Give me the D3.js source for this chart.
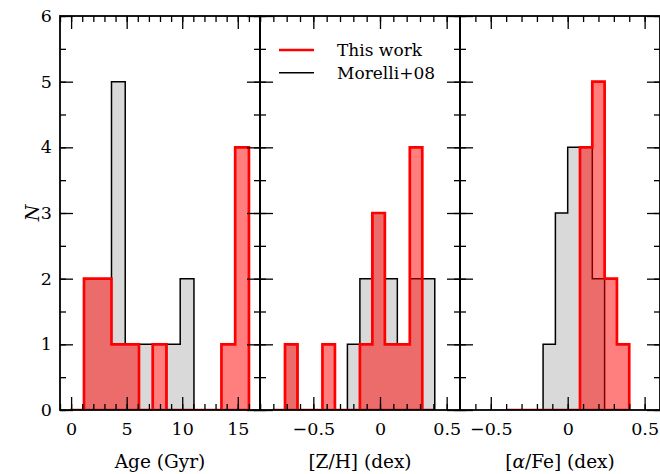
<!DOCTYPE html>
<html><head><meta charset="utf-8">
<script src="https://cdn.jsdelivr.net/npm/d3@7"></script>
<style>body{margin:0;background:#fff}svg{display:block}</style>
</head><body>
<svg id="c" width="660" height="474"></svg>
<script>
// ---------- data ----------
const ageBinStart = -0.077, ageBinWidth = 1.237;
const ageThisWork = [0,2,2,1,1,0,1,0,0,0,0,1,4];
const ageMorelli  = [0,2,2,5,1,1,0,1,2,0,0,0,0];

const zhBinStart = -0.806, zhBinWidth = 0.0936;
const zhThisWork = [0,1,0,0,1,0,0,1,3,1,1,4,0];
const zhMorelli  = [0,1,0,0,0,0,1,2,3,2,1,2,2];

const afeBinStart = -0.4, afeBinWidth = 0.08;
const afeThisWork = [0,0,0,0,0,0,4,5,2,1];
const afeMorelli  = [0,0,0,1,3,4,4,2,0,0];

const ageTicks = [0,5,10,15];
const zhTicks = [-0.5,0,0.5];
const afeTicks = [-0.5,0,0.5];
const yTicks = [0,1,2,3,4,5,6];
const legendLabels = ["This work","Morelli+08"];
const xTitles = [["Age (Gyr)"],["[Z/H] (dex)"],["[","α","/Fe] (dex)"]];

// ---------- layout ----------
const svg = d3.select("#c");
const yTop = 16, yBot = 410;
const FONT = "DejaVu Serif";
const y = d3.scaleLinear().domain([0,6]).range([yBot, yTop]);

const panels = [
  {x0:60, x1:260, domain:[-1,17], start:ageBinStart, w:ageBinWidth, red:ageThisWork, gray:ageMorelli, ticks:ageTicks, minor:1, fmt:d=>String(d), title:xTitles[0]},
  {x0:260, x1:460, domain:[-0.9,0.6], start:zhBinStart, w:zhBinWidth, red:zhThisWork, gray:zhMorelli, ticks:zhTicks, minor:0.1, fmt:d=>d===0?"0":(d<0?"\u2212":"")+Math.abs(d), title:xTitles[1]},
  {x0:460, x1:660, domain:[-0.7,0.6], start:afeBinStart, w:afeBinWidth, red:afeThisWork, gray:afeMorelli, ticks:afeTicks, minor:0.1, fmt:d=>d===0?"0":(d<0?"\u2212":"")+Math.abs(d), title:xTitles[2]}
];

function stepPath(x, start, w, counts){
  const p = d3.path();
  p.moveTo(x(start), y(0));
  counts.forEach((c,i)=>{
    p.lineTo(x(start+i*w), y(c));
    p.lineTo(x(start+(i+1)*w), y(c));
  });
  p.lineTo(x(start+counts.length*w), y(0));
  p.closePath();
  return p.toString();
}

panels.forEach((P,pi)=>{
  const x = d3.scaleLinear().domain(P.domain).range([P.x0, P.x1]);
  const clipId = "clip"+pi;
  svg.append("clipPath").attr("id",clipId).append("rect")
    .attr("x",P.x0).attr("y",yTop).attr("width",P.x1-P.x0).attr("height",yBot-yTop);
  const g = svg.append("g").attr("clip-path",`url(#${clipId})`);
  g.append("path").attr("d",stepPath(x,P.start,P.w,P.gray))
    .attr("fill","#d9d9d9").attr("stroke","#000").attr("stroke-width",1.5).attr("stroke-linejoin","miter");
  g.append("path").attr("d",stepPath(x,P.start,P.w,P.red))
    .attr("fill","rgba(255,0,0,0.5)").attr("stroke","#ff0000").attr("stroke-width",2.7).attr("stroke-linejoin","miter");

  const minorVals = d3.range(Math.ceil(P.domain[0]/P.minor), Math.floor(P.domain[1]/P.minor)+1).map(k=>+(k*P.minor).toFixed(6));
  svg.append("g").attr("transform",`translate(0,${yBot})`).call(d3.axisBottom(x).tickValues(minorVals).tickSize(-6).tickFormat(""));
  svg.append("g").attr("transform",`translate(0,${yTop})`).call(d3.axisTop(x).tickValues(minorVals).tickSize(-6).tickFormat(""));
  svg.append("g").attr("class","xlab").attr("transform",`translate(0,${yBot})`)
    .call(d3.axisBottom(x).tickValues(P.ticks).tickSize(-13).tickPadding(13).tickFormat(P.fmt));
  svg.append("g").attr("transform",`translate(0,${yTop})`).call(d3.axisTop(x).tickValues(P.ticks).tickSize(-13).tickFormat(""));

  const yMinor = d3.range(0,6.01,0.5);
  svg.append("g").attr("transform",`translate(${P.x0},0)`).call(d3.axisLeft(y).tickValues(yMinor).tickSize(-6).tickFormat(""));
  svg.append("g").attr("transform",`translate(${P.x1},0)`).call(d3.axisRight(y).tickValues(yMinor).tickSize(-6).tickFormat(""));
  svg.append("g").attr("class","ylab").attr("transform",`translate(${P.x0},0)`)
    .call(d3.axisLeft(y).tickValues(yTicks).tickSize(-13).tickPadding(8).tickFormat(pi===0?d3.format("d"):""));
  svg.append("g").attr("transform",`translate(${P.x1},0)`).call(d3.axisRight(y).tickValues(yTicks).tickSize(-13).tickFormat(""));

  const tt = svg.append("text").attr("x",(P.x0+P.x1)/2).attr("y",468).attr("text-anchor","middle")
    .attr("font-family",FONT).attr("font-size",18.5);
  P.title.forEach((s,k)=>{
    const ts = tt.append("tspan").text(s);
    if (s === "α") ts.attr("font-style","italic");
  });
});

svg.selectAll(".domain").remove();
svg.selectAll(".tick line").attr("stroke","#000").attr("stroke-width",1.3);
svg.selectAll(".xlab text,.ylab text").attr("font-family",FONT).attr("font-size",17.5).attr("fill","#000");

panels.forEach(P=>{
  svg.append("rect").attr("x",P.x0).attr("y",yTop).attr("width",P.x1-P.x0).attr("height",yBot-yTop)
    .attr("fill","none").attr("stroke","#000").attr("stroke-width",1.8);
});

svg.append("text").attr("transform","translate(39,213) rotate(-90)").attr("text-anchor","middle")
  .attr("font-family",FONT).attr("font-style","italic").attr("font-size",19).text("N");

const legColors = ["#ff0000","#000"];
legendLabels.forEach((t,i)=>{
  const ly = 50 + i*22.7;
  svg.append("line").attr("x1",279).attr("x2",314).attr("y1",ly).attr("y2",ly)
    .attr("stroke",legColors[i]).attr("stroke-width",i===0?2.5:1.5);
  svg.append("text").attr("x",337).attr("y",ly+6).attr("font-family",FONT).attr("font-size",17).text(t);
});
</script>
</body></html>
